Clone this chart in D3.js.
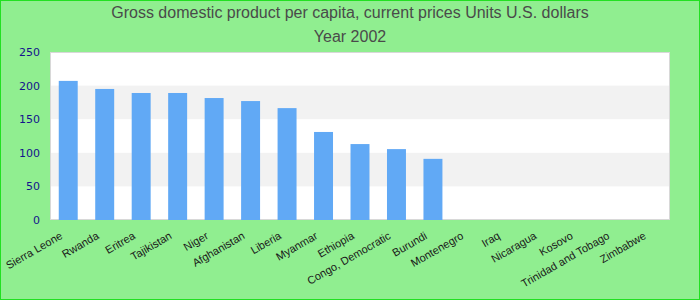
<!DOCTYPE html>
<html>
<head>
<meta charset="utf-8">
<script src="https://cdn.jsdelivr.net/npm/d3@7"></script>
<style>
  body { margin: 0; }
  svg { display: block; }
</style>
</head>
<body>
<div id="chart"></div>
<script>
const countries = [
  "Sierra Leone", "Rwanda", "Eritrea", "Tajikistan", "Niger", "Afghanistan",
  "Liberia", "Myanmar", "Ethiopia", "Congo, Democratic", "Burundi", "Montenegro",
  "Iraq", "Nicaragua", "Kosovo", "Trinidad and Tobago", "Zimbabwe",
];
const gdpValues = [207, 195, 189, 189, 181.5, 177, 166.5, 131, 113, 105.5, 91, null, null, null, null, null, null];
const yTicks = [0, 50, 100, 150, 200, 250];
const titleLines = ["Gross domestic product per capita, current prices Units U.S. dollars", "Year 2002"];

const width = 700,
  height = 300,
  margin = { top: 52, right: 30, bottom: 80, left: 50 },
  svg = d3.select("#chart").append("svg").attr("width", width).attr("height", height),
  xScale = d3
    .scaleBand()
    .domain(countries)
    .range([margin.left, width - margin.right])
    .paddingInner(0.48)
    .paddingOuter(0.24),
  yScale = d3
    .scaleLinear()
    .domain([0, 250])
    .range([height - margin.bottom, margin.top]);

// background + outer border
svg
  .append("rect")
  .attr("x", 0.5)
  .attr("y", 0.5)
  .attr("width", width - 1)
  .attr("height", height - 1)
  .attr("fill", "#90ee90")
  .attr("stroke", "#22e022");

// plot area with alternate bands
svg
  .append("rect")
  .attr("x", margin.left)
  .attr("y", margin.top)
  .attr("width", width - margin.left - margin.right)
  .attr("height", height - margin.top - margin.bottom)
  .attr("fill", "#ffffff");

svg
  .append("g")
  .selectAll("rect")
  .data(yTicks.slice(0, -1).filter((d, i) => i % 2 === 1))
  .join("rect")
  .attr("x", margin.left)
  .attr("y", (d) => yScale(d + 50))
  .attr("width", width - margin.left - margin.right)
  .attr("height", (d) => yScale(d) - yScale(d + 50))
  .attr("fill", "#f2f2f2");

svg
  .append("rect")
  .attr("x", margin.left + 0.5)
  .attr("y", margin.top + 0.5)
  .attr("width", width - margin.left - margin.right - 1)
  .attr("height", height - margin.top - margin.bottom - 1)
  .attr("fill", "none")
  .attr("stroke", "#d8d8d8");

// bars
svg
  .append("g")
  .selectAll("rect")
  .data(countries.map((c, i) => ({ name: c, value: gdpValues[i] })).filter((d) => d.value !== null))
  .join("rect")
  .attr("x", (d) => xScale(d.name))
  .attr("y", (d) => yScale(d.value))
  .attr("width", xScale.bandwidth())
  .attr("height", (d) => yScale(0) - yScale(d.value))
  .attr("fill", "#61a9f5");

// y axis
const yAxis = svg
  .append("g")
  .attr("transform", `translate(${margin.left - 10}, 0)`)
  .call(d3.axisLeft(yScale).tickValues(yTicks).tickSize(0).tickPadding(0));
yAxis.select(".domain").remove();
yAxis
  .selectAll("text")
  .attr("font-family", "DejaVu Sans, sans-serif")
  .attr("font-size", 11)
  .attr("fill", "#14148c");

// x labels
const step = xScale.step();
svg
  .append("g")
  .selectAll("text")
  .data(countries)
  .join("text")
  .attr("transform", (d) => {
    const cx = xScale(d) + xScale.bandwidth() / 2 - 5;
    return `translate(${cx}, 238) rotate(-30)`;
  })
  .attr("text-anchor", "end")
  .attr("font-family", "Liberation Sans, Arial, sans-serif")
  .attr("font-size", 11)
  .attr("fill", "#1a1a1a")
  .text((d) => d);

// title
svg
  .append("g")
  .selectAll("text")
  .data(titleLines)
  .join("text")
  .attr("x", width / 2)
  .attr("y", (d, i) => 18 + i * 24)
  .attr("text-anchor", "middle")
  .attr("font-family", "Liberation Sans, Arial, sans-serif")
  .attr("font-size", 16)
  .attr("fill", "#4a4a4a")
  .text((d) => d);
</script>
</body>
</html>
